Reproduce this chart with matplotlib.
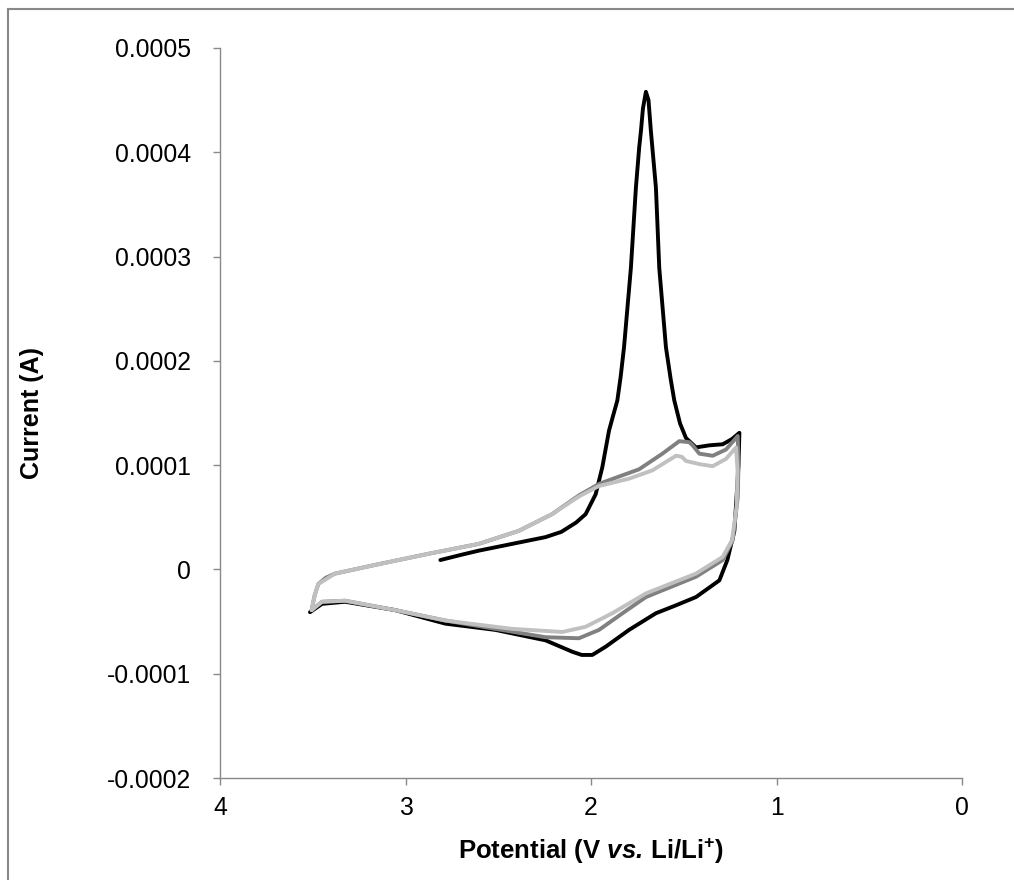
import numpy as np
import matplotlib
matplotlib.use("Agg")
import matplotlib.pyplot as plt
from matplotlib.lines import Line2D

plt.rcParams['font.family'] = ['Liberation Sans', 'DejaVu Sans']
plt.rcParams['mathtext.fontset'] = 'custom'
plt.rcParams['mathtext.rm'] = 'Liberation Sans'
plt.rcParams['mathtext.bf'] = 'Liberation Sans:bold'
plt.rcParams['mathtext.it'] = 'Liberation Sans:italic'
plt.rcParams['mathtext.bfit'] = 'Liberation Sans:bold:italic'

# current values below are in units of 1e-4 A
scale = 1e-4

# cycle 1 (black)
black_v = [2.812, 2.70, 2.605, 2.425, 2.245, 2.16, 2.08, 2.029, 1.975, 1.939, 1.903,
           1.88, 1.858, 1.84, 1.822, 1.785, 1.758, 1.74, 1.731, 1.72, 1.704, 1.69,
           1.677, 1.650, 1.632, 1.596, 1.57, 1.551, 1.520, 1.488, 1.434, 1.362,
           1.29, 1.24, 1.20,
           1.205, 1.21, 1.227, 1.265, 1.308, 1.434, 1.55, 1.65, 1.795, 1.92,
           1.993, 2.05, 2.1, 2.245, 2.515, 2.785, 3.056, 3.326, 3.45, 3.515]
black_i = [0.09, 0.14, 0.18, 0.245, 0.31, 0.36, 0.45, 0.53, 0.72, 0.98, 1.33,
           1.48, 1.62, 1.85, 2.13, 2.89, 3.66, 4.05, 4.20, 4.42, 4.58, 4.50,
           4.20, 3.66, 2.89, 2.13, 1.82, 1.62, 1.40, 1.26, 1.17, 1.19,
           1.20, 1.25, 1.31,
           1.0, 0.85, 0.37, 0.09, -0.105, -0.265, -0.35, -0.42, -0.58, -0.74,
           -0.82, -0.82, -0.79, -0.68, -0.58, -0.52, -0.39, -0.31, -0.33, -0.41]

# cycle 2 (dark grey)
dark_v = [3.506, 3.49, 3.47, 3.43, 3.38, 3.146, 2.876, 2.605, 2.389, 2.21,
          2.065, 1.957, 1.85, 1.741, 1.615, 1.524, 1.47, 1.452, 1.416, 1.344,
          1.272, 1.209, 1.205, 1.209, 1.236, 1.29, 1.434, 1.704, 1.83, 1.957,
          2.065, 2.245, 2.515, 2.785, 3.056, 3.326, 3.45, 3.506]
dark_i = [-0.39, -0.25, -0.14, -0.08, -0.04, 0.05, 0.15, 0.245, 0.37, 0.53,
          0.71, 0.82, 0.89, 0.96, 1.11, 1.23, 1.22, 1.19, 1.11, 1.09,
          1.15, 1.28, 1.0, 0.69, 0.28, 0.09, -0.07, -0.265, -0.42, -0.58,
          -0.66, -0.65, -0.57, -0.49, -0.39, -0.30, -0.31, -0.39]

# cycle 3 (light grey)
light_v = [3.506, 3.49, 3.47, 3.38, 3.146, 2.876, 2.605, 2.389, 2.21, 2.065,
           1.957, 1.795, 1.669, 1.542, 1.51, 1.488, 1.416, 1.344, 1.272, 1.218,
           1.21, 1.215, 1.24, 1.29, 1.434, 1.704, 1.885, 2.029, 2.155, 2.425,
           2.785, 3.056, 3.326, 3.45, 3.506]
light_i = [-0.39, -0.25, -0.14, -0.04, 0.05, 0.15, 0.245, 0.37, 0.53, 0.70,
           0.80, 0.87, 0.95, 1.09, 1.08, 1.04, 1.01, 0.99, 1.06, 1.17,
           0.95, 0.6, 0.28, 0.12, -0.04, -0.23, -0.42, -0.55, -0.60, -0.57,
           -0.49, -0.39, -0.30, -0.31, -0.39]

x_ticks = [4, 3, 2, 1, 0]
y_ticks = [0.0005, 0.0004, 0.0003, 0.0002, 0.0001, 0, -0.0001, -0.0002]
y_labels = ['0.0005', '0.0004', '0.0003', '0.0002', '0.0001', '0', '-0.0001', '-0.0002']

fig = plt.figure(figsize=(10.14, 8.8), dpi=100)
ax = fig.add_axes([220 / 1014, 1 - 778 / 880, (962 - 220) / 1014, (778 - 48) / 880])

lw = 2.8
ax.plot(black_v, np.array(black_i) * scale, color='black', lw=lw,
        solid_joinstyle='round', solid_capstyle='round')
ax.plot(dark_v, np.array(dark_i) * scale, color='#808080', lw=lw,
        solid_joinstyle='round', solid_capstyle='round')
ax.plot(light_v, np.array(light_i) * scale, color='#c0c0c0', lw=lw,
        solid_joinstyle='round', solid_capstyle='round')

ax.set_xlim(4, 0)
ax.set_ylim(-0.0002, 0.0005)
ax.set_xticks(x_ticks)
ax.set_xticklabels([str(t) for t in x_ticks])
ax.set_yticks(y_ticks)
ax.set_yticklabels(y_labels)

for s in ['top', 'right']:
    ax.spines[s].set_visible(False)
for s in ['left', 'bottom']:
    ax.spines[s].set_color('#898989')
    ax.spines[s].set_linewidth(1.0)
ax.tick_params(direction='out', length=5, width=1.0, color='#898989',
               labelsize=17.8)
ax.tick_params(axis='y', pad=16)
ax.tick_params(axis='x', pad=8)

ax.set_ylabel('Current (A)', fontsize=18, fontweight='bold')
ax.yaxis.set_label_coords((44 - 220) / 742, 0.5)
ax.set_xlabel(r'$\mathbf{Potential\ (V\ }\mathbfit{vs.}\mathbf{\,Li/Li^{+})}$',
              fontsize=18.5, labelpad=12)

# outer frame (left and top edges only)
fig.add_artist(Line2D([8 / 1014, 8 / 1014], [0, 1 - 9 / 880], color='#888888', lw=1.5))
fig.add_artist(Line2D([8 / 1014, 1], [1 - 9 / 880, 1 - 9 / 880], color='#888888', lw=1.5))

fig.savefig('out.png', dpi=100)
